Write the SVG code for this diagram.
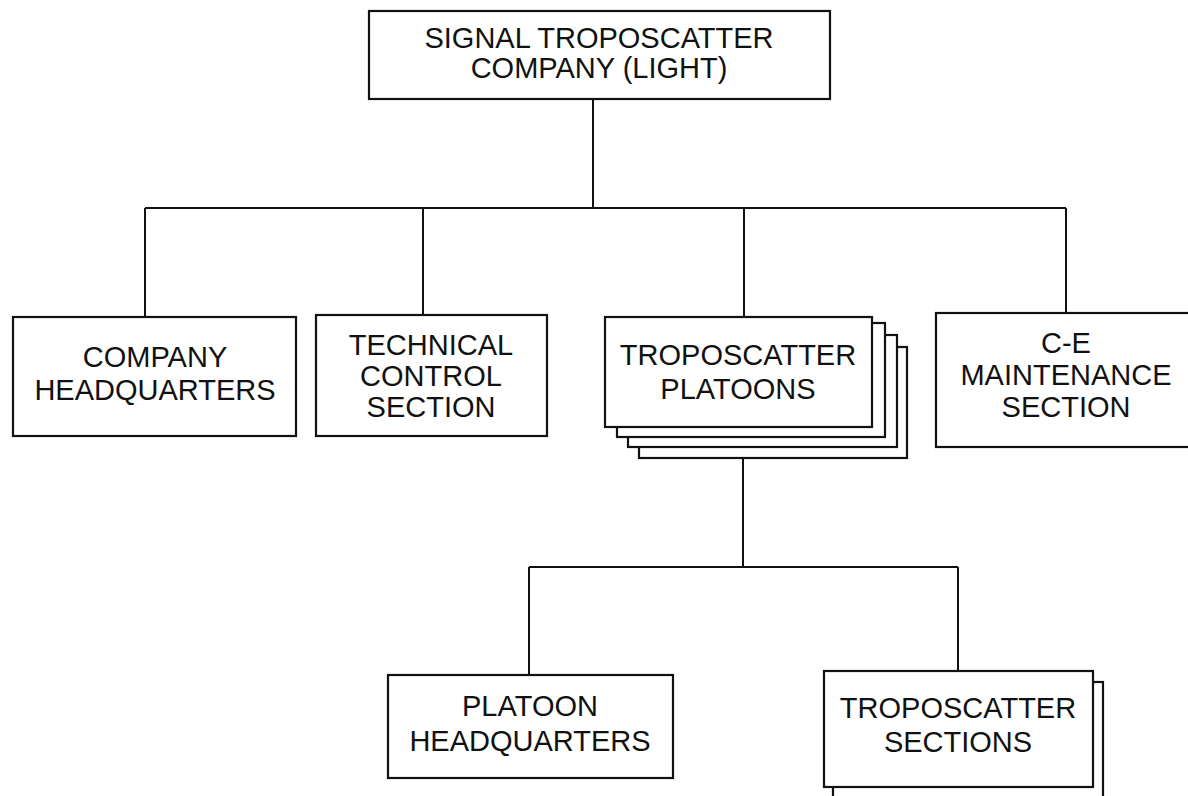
<svg xmlns="http://www.w3.org/2000/svg" width="1188" height="796" viewBox="0 0 1188 796">
<style>
.box{fill:#fff;stroke:#111;stroke-width:2.2}
.lbl{font-family:"Liberation Sans",Arial,sans-serif;font-size:29px;fill:#111;text-anchor:middle}
.con{fill:none;stroke:#111;stroke-width:2}
</style>
<rect width="1188" height="796" fill="#fff"/>
<g id="connectors">
<path class="con" d="M593 99V208"/>
<path class="con" d="M145 208H1066"/>
<path class="con" d="M145 208V317M423 208V315M744 208V317M1066 208V313"/>
<path class="con" d="M743 458V567"/>
<path class="con" d="M529 567H958M529 567V675M958 567V671"/>
</g>
<g id="company">
<rect class="box" x="369" y="11" width="461" height="88"/>
<text class="lbl" x="599" y="48">SIGNAL TROPOSCATTER</text>
<text class="lbl" x="599" y="78">COMPANY (LIGHT)</text>
</g>
<g id="company-hq">
<rect class="box" x="13" y="317" width="283" height="119"/>
<text class="lbl" x="155" y="367">COMPANY</text>
<text class="lbl" x="155" y="400">HEADQUARTERS</text>
</g>
<g id="technical-control">
<rect class="box" x="316" y="315" width="231" height="121"/>
<text class="lbl" x="431" y="355">TECHNICAL</text>
<text class="lbl" x="431" y="386">CONTROL</text>
<text class="lbl" x="431" y="417">SECTION</text>
</g>
<g id="troposcatter-platoons">
<rect class="box" x="639" y="347" width="268" height="111"/>
<rect class="box" x="628" y="335" width="269" height="112"/>
<rect class="box" x="617" y="323" width="268" height="114"/>
<rect class="box" x="605" y="317" width="267" height="110"/>
<text class="lbl" x="738" y="365">TROPOSCATTER</text>
<text class="lbl" x="738" y="399">PLATOONS</text>
</g>
<g id="ce-maintenance">
<rect class="box" x="936" y="313" width="270" height="134"/>
<text class="lbl" x="1066" y="353">C-E</text>
<text class="lbl" x="1066" y="385">MAINTENANCE</text>
<text class="lbl" x="1066" y="417">SECTION</text>
</g>
<g id="platoon-hq">
<rect class="box" x="388" y="675" width="285" height="103"/>
<text class="lbl" x="530" y="716">PLATOON</text>
<text class="lbl" x="530" y="751">HEADQUARTERS</text>
</g>
<g id="troposcatter-sections">
<rect class="box" x="833" y="682" width="270" height="130"/>
<rect class="box" x="824" y="671" width="269" height="116"/>
<text class="lbl" x="958" y="718">TROPOSCATTER</text>
<text class="lbl" x="958" y="752">SECTIONS</text>
</g>
</svg>
